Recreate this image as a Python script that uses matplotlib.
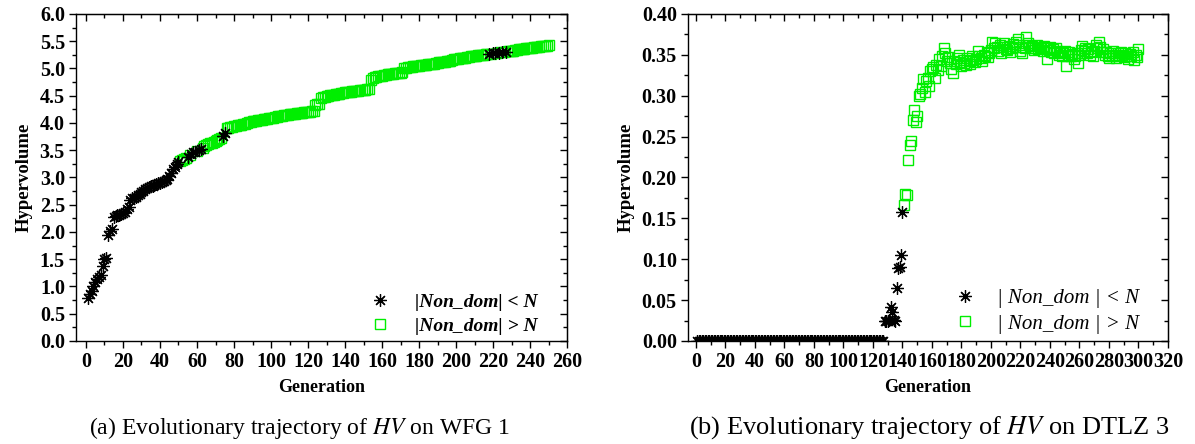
import numpy as np
import matplotlib
matplotlib.use("Agg")
import matplotlib.pyplot as plt
from matplotlib.ticker import MultipleLocator, FormatStrFormatter

plt.rcParams['font.family'] = ['Liberation Serif', 'DejaVu Serif']
plt.rcParams['mathtext.fontset'] = 'stix'

# ---- data: HV per generation on WFG1 (gens 1..250)
wfg1_hv = [
    0.79, 0.86, 0.92, 1.00, 1.08, 1.13, 1.18, 1.22, 1.37, 1.50,
    1.53, 1.95, 2.01, 2.05, 2.28, 2.30, 2.31, 2.32, 2.33, 2.34,
    2.36, 2.42, 2.45, 2.58, 2.62, 2.63, 2.65, 2.68, 2.70, 2.73,
    2.76, 2.78, 2.80, 2.82, 2.84, 2.85, 2.87, 2.88, 2.89, 2.90,
    2.91, 2.93, 2.95, 2.98, 3.02, 3.08, 3.15, 3.20, 3.25, 3.29,
    3.31, 3.33, 3.34, 3.36, 3.38, 3.41, 3.44, 3.46, 3.47, 3.49,
    3.50, 3.52, 3.55, 3.57, 3.59, 3.61, 3.63, 3.64, 3.66, 3.67,
    3.68, 3.70, 3.72, 3.76, 3.82, 3.90, 3.91, 3.92, 3.93, 3.94,
    3.95, 3.96, 3.97, 3.97, 3.98, 3.99, 4.00, 4.01, 4.02, 4.03,
    4.03, 4.04, 4.05, 4.06, 4.06, 4.07, 4.08, 4.08, 4.09, 4.10,
    4.10, 4.11, 4.11, 4.12, 4.13, 4.13, 4.14, 4.15, 4.15, 4.16,
    4.16, 4.17, 4.17, 4.18, 4.18, 4.19, 4.19, 4.20, 4.20, 4.21,
    4.21, 4.22, 4.22, 4.33, 4.34, 4.35, 4.45, 4.47, 4.48, 4.49,
    4.50, 4.51, 4.52, 4.52, 4.53, 4.54, 4.54, 4.55, 4.55, 4.56,
    4.56, 4.57, 4.57, 4.58, 4.58, 4.59, 4.59, 4.60, 4.60, 4.61,
    4.61, 4.62, 4.62, 4.79, 4.82, 4.84, 4.85, 4.86, 4.87, 4.87,
    4.88, 4.88, 4.89, 4.89, 4.90, 4.90, 4.91, 4.91, 4.92, 4.92,
    4.93, 5.00, 5.01, 5.02, 5.03, 5.03, 5.04, 5.04, 5.05, 5.05,
    5.06, 5.06, 5.07, 5.07, 5.08, 5.08, 5.09, 5.09, 5.10, 5.10,
    5.11, 5.11, 5.12, 5.12, 5.13, 5.13, 5.14, 5.16, 5.17, 5.18,
    5.18, 5.19, 5.19, 5.20, 5.20, 5.21, 5.21, 5.22, 5.22, 5.23,
    5.23, 5.24, 5.24, 5.25, 5.25, 5.26, 5.26, 5.27, 5.27, 5.28,
    5.28, 5.29, 5.29, 5.30, 5.30, 5.31, 5.31, 5.32, 5.32, 5.33,
    5.33, 5.34, 5.34, 5.35, 5.35, 5.36, 5.36, 5.37, 5.37, 5.38,
    5.38, 5.39, 5.39, 5.40, 5.40, 5.41, 5.41, 5.42, 5.42, 5.43,
]
# generations where |Non_dom| < N on WFG1 (all others are > N)
wfg1_below = list(range(1, 51)) + [55, 57, 58, 59, 61, 62, 74, 75,
                                   218, 220, 221, 223, 225, 227]

# ---- data: HV per generation on DTLZ3 (gens 1..300)
dtlz3_hv = [0.0] * 127 + [
    0.024, 0.025, 0.024, 0.026, 0.042, 0.035, 0.026, 0.025, 0.065, 0.089,
    0.090, 0.105, 0.158, 0.166, 0.180, 0.178, 0.222, 0.240, 0.245, 0.270,
    0.283, 0.268, 0.275, 0.300, 0.302, 0.310, 0.320, 0.305, 0.318, 0.322,
    0.312, 0.330, 0.333, 0.335, 0.322, 0.338, 0.332, 0.345, 0.336, 0.348,
    0.358, 0.352, 0.343, 0.347, 0.340, 0.333, 0.328, 0.343, 0.339, 0.346,
    0.350, 0.341, 0.336, 0.344, 0.340, 0.338, 0.346, 0.342, 0.339, 0.348,
    0.344, 0.341, 0.345, 0.355, 0.349, 0.346, 0.343, 0.350, 0.348, 0.353,
    0.347, 0.352, 0.356, 0.366, 0.358, 0.365, 0.360, 0.355, 0.362, 0.352,
    0.360, 0.364, 0.357, 0.356, 0.361, 0.354, 0.358, 0.363, 0.360, 0.366,
    0.370, 0.362, 0.355, 0.352, 0.360, 0.358, 0.372, 0.365, 0.362, 0.358,
    0.361, 0.356, 0.359, 0.362, 0.357, 0.360, 0.358, 0.355, 0.361, 0.358,
    0.345, 0.356, 0.360, 0.354, 0.357, 0.352, 0.358, 0.355, 0.350, 0.353,
    0.348, 0.352, 0.355, 0.336, 0.350, 0.353, 0.348, 0.351, 0.345, 0.349,
    0.352, 0.340, 0.350, 0.356, 0.361, 0.355, 0.358, 0.352, 0.357, 0.350,
    0.353, 0.349, 0.355, 0.362, 0.358, 0.366, 0.360, 0.354, 0.357, 0.350,
    0.353, 0.349, 0.346, 0.352, 0.348, 0.355, 0.350, 0.346, 0.352, 0.348,
    0.354, 0.350, 0.347, 0.352, 0.349, 0.345, 0.351, 0.348, 0.353, 0.344,
    0.350, 0.347, 0.357,
]
dtlz3_below = list(range(1, 141))

captions = [r"(a) Evolutionary trajectory of $\mathit{HV}$ on WFG 1",
            r"(b) Evolutionary trajectory of $\mathit{HV}$ on DTLZ 3"]

star = (8, 2, 0)
green = '#00ee00'


def split(hv, below):
    gens = np.arange(1, len(hv) + 1)
    hv = np.array(hv)
    mask = np.isin(gens, below)
    return gens[mask], hv[mask], gens[~mask], hv[~mask]


def style_axes(ax, xlim, xmaj, ylim, ymaj, yfmt):
    ax.set_xlim(*xlim)
    ax.set_ylim(*ylim)
    ax.xaxis.set_major_locator(MultipleLocator(xmaj))
    ax.xaxis.set_minor_locator(MultipleLocator(xmaj / 2))
    ax.yaxis.set_major_locator(MultipleLocator(ymaj))
    ax.yaxis.set_minor_locator(MultipleLocator(ymaj / 2))
    ax.yaxis.set_major_formatter(FormatStrFormatter(yfmt))
    ax.tick_params(which='major', direction='out', length=5, width=1,
                   labelsize=14.5, pad=3)
    ax.tick_params(which='minor', direction='out', length=3, width=1)
    for lab in ax.get_xticklabels() + ax.get_yticklabels():
        lab.set_fontweight('bold')
    for s in ax.spines.values():
        s.set_linewidth(1.0)
    # inward ticks on top and right
    top = ax.secondary_xaxis('top')
    right = ax.secondary_yaxis('right')
    for sec, axis, step in ((top, top.xaxis, xmaj), (right, right.yaxis, ymaj)):
        axis.set_major_locator(MultipleLocator(step))
        axis.set_minor_locator(MultipleLocator(step / 2))
        sec.tick_params(which='major', direction='in', length=5, width=1,
                        labelbottom=False, labeltop=False,
                        labelleft=False, labelright=False)
        sec.tick_params(which='minor', direction='in', length=3, width=1)
    ax.set_xlabel('Generation', fontsize=13, fontweight='bold', labelpad=5)
    ax.set_ylabel('Hypervolume', fontsize=13.5, fontweight='bold', labelpad=5)


fig = plt.figure(figsize=(11.95, 4.44), dpi=100)
ax1 = fig.add_axes([0.0636, 0.232, 0.4109, 0.7365])
ax2 = fig.add_axes([0.5757, 0.232, 0.4017, 0.7365])

# WFG 1
gb, hb, gg, hg = split(wfg1_hv, wfg1_below)
ax1.plot(gg, hg, ls='none', marker='s', ms=7.5, mfc='none', mec=green,
         mew=1.0, label='|Non_dom| > N')
ax1.plot(gb, hb, ls='none', marker=star, ms=9, color='black', mew=0.9,
         label='|Non_dom| < N')
style_axes(ax1, (-5.4, 260), 20, (0, 6.0), 0.5, '%.1f')
h, l = ax1.get_legend_handles_labels()
ax1.legend(h[::-1], l[::-1], loc='lower right', frameon=False,
           bbox_to_anchor=(0.975, -0.035),
           prop={'size': 14, 'style': 'italic', 'weight': 'bold'},
           handletextpad=0.8, labelspacing=0.35)

# DTLZ 3
gb, hb, gg, hg = split(dtlz3_hv, dtlz3_below)
ax2.plot(gg, hg, ls='none', marker='s', ms=7, mfc='none', mec=green,
         mew=1.0, label='| Non_dom | > N')
ax2.plot(gb, hb, ls='none', marker=star, ms=9, color='black', mew=0.9,
         label='| Non_dom | < N')
style_axes(ax2, (-5.4, 320), 20, (0, 0.40), 0.05, '%.2f')
h, l = ax2.get_legend_handles_labels()
ax2.legend(h[::-1], l[::-1], loc='lower right', frameon=False,
           bbox_to_anchor=(0.978, -0.035),
           prop={'size': 15, 'style': 'italic'},
           handletextpad=0.5, labelspacing=0.3)

fig.text(0.251, 0.036, captions[0], ha='center', va='center', fontsize=17)
fig.text(0.778, 0.036, captions[1], ha='center', va='center', fontsize=19)

fig.savefig('out.png', dpi=100)
